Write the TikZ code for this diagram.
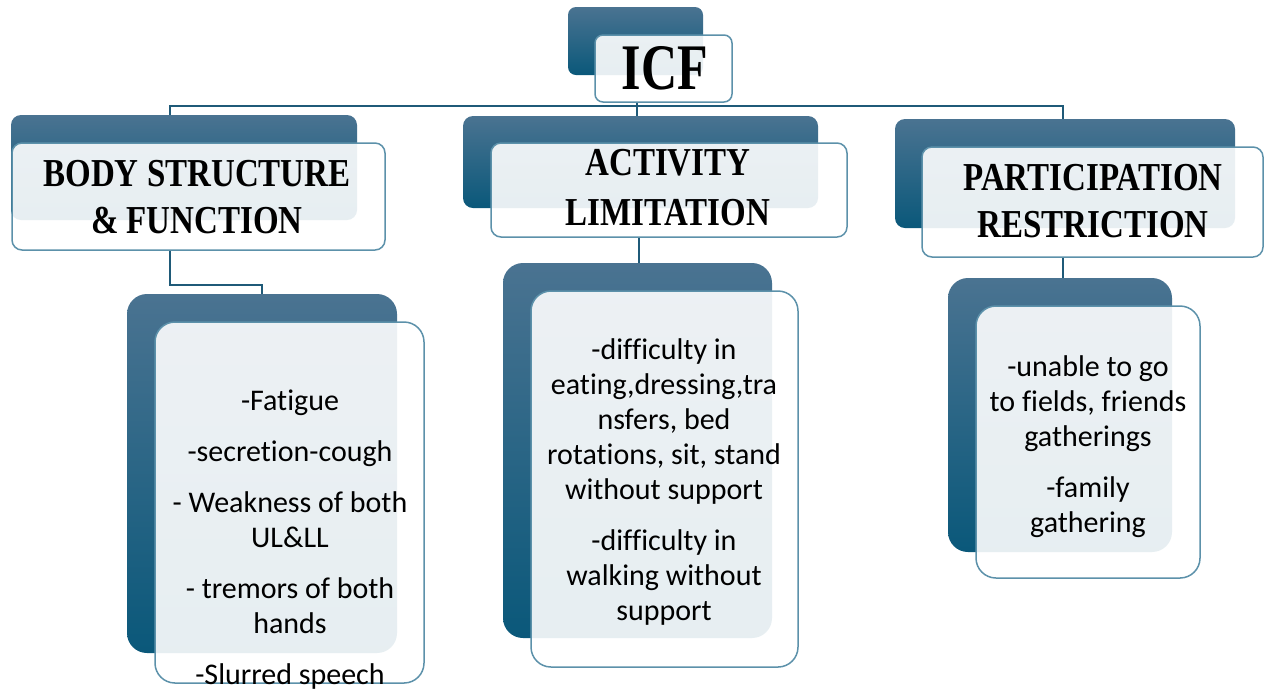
\documentclass[tikz,border=0pt]{standalone}
\usepackage{fontspec}
\setmainfont[Ligatures=NoCommon]{Carlito}
\newfontfamily\headfont{Liberation Serif}
\usetikzlibrary{fit}

\definecolor{linkblue}{RGB}{31,90,120}
\definecolor{frameblue}{RGB}{92,145,170}
\definecolor{backtop}{RGB}{74,115,145}
\definecolor{backbot}{RGB}{10,88,122}

\newcommand{\tallcap}[1]{\scalebox{1}[1.2]{#1}}

\begin{document}
\begin{tikzpicture}[x=0.5pt, y=-0.5pt,
	back/.style = {rounded corners=#1, top color=backtop, bottom color=backbot, draw=none, inner sep=0pt},
	front/.style = {rounded corners=#1, draw=frameblue, line width=0.75pt, fill=white, fill opacity=0.9, inner sep=0pt},
	link/.style = {draw=linkblue, line width=1pt},
	headtxt/.style = {align=center, font=\headfont\bfseries\fontsize{16.5}{23.5}\selectfont},
	itemtxt/.style = {align=center, font=\fontsize{15}{17.5}\selectfont}]
	\path[use as bounding box, fill=white] (0,0) rectangle (1267,693);

	% joints of the connectors
	\coordinate (hub) at (637,106);
	\coordinate (bx) at (170,0);
	\coordinate (px) at (1063,0);
	\coordinate (ax) at (639,0);
	\coordinate (bj) at (262,285);

	% top level
	\node[back=4pt, fit={(568,7) (703,75)}] (icfback) {};
	\node[front=4pt, fit={(595,35) (732,102)}] (icf) {};
	\node[font=\headfont\bfseries\fontsize{25}{30}\selectfont] (icftxt) at (665,68) {\scalebox{1}[1.3]{ICF}};

	% second level
	\node[back=5pt, fit={(11,115) (357,220)}] (bsfback) {};
	\node[front=5pt, fit={(12,143) (385,250)}] (bsf) {};
	\node[headtxt] (bsftxt) at (197,197) {\tallcap{BODY STRUCTURE}\\ \tallcap{\& FUNCTION}};

	\node[back=5pt, fit={(463,116) (818,208)}] (actback) {};
	\node[front=5pt, fit={(491,143) (847,237)}] (act) {};
	\node[headtxt, font=\headfont\bfseries\fontsize{16.5}{25}\selectfont] (acttxt) at (668,188) {\tallcap{ACTIVITY}\\ \tallcap{LIMITATION}};

	\node[back=5pt, fit={(895,119) (1235,228)}] (parback) {};
	\node[front=5pt, fit={(922,147) (1263,257)}] (par) {};
	\node[headtxt] (partxt) at (1093,201) {\tallcap{PARTICIPATION}\\ \tallcap{RESTRICTION}};

	% third level
	\node[back=10pt, fit={(127,294) (397,653)}] (bsfdback) {};
	\node[front=10pt, fit={(155,322) (424,683)}] (bsfd) {};
	\node[itemtxt] (bsfdtxt) at (290,540) {-Fatigue\\[8pt] -secretion-cough\\[8pt] - Weakness of both\\ UL\&LL\\[8pt] - tremors of both\\ hands\\[8pt] -Slurred speech};

	\node[back=10pt, fit={(503,263) (772,638)}] (actdback) {};
	\node[front=10pt, fit={(531,291) (798,667)}] (actd) {};
	\node[itemtxt] (actdtxt) at (664,482) {-difficulty in\\ eating,dressing,tra\\ nsfers, bed\\ rotations, sit, stand\\ without support\\[8pt] -difficulty in\\ walking without\\ support};

	\node[back=10pt, fit={(948,278) (1172,552)}] (pardback) {};
	\node[front=10pt, fit={(976,306) (1200,578)}] (pard) {};
	\node[itemtxt] (pardtxt) at (1088,447) {-unable to go\\ to fields, friends\\ gatherings\\[8pt] -family\\ gathering};

	% connectors
	\draw[link] (hub |- icf.south) -- (hub |- actback.north); % trunk
	\draw[link] (hub) -| (bx |- bsfback.north);
	\draw[link] (hub) -| (px |- parback.north);
	\draw[link] (bx |- bsf.south) |- (bj) -- (bj |- bsfdback.north);
	\draw[link] (ax |- act.south) -- (ax |- actdback.north);
	\draw[link] (px |- par.south) -- (px |- pardback.north);
\end{tikzpicture}
\end{document}
